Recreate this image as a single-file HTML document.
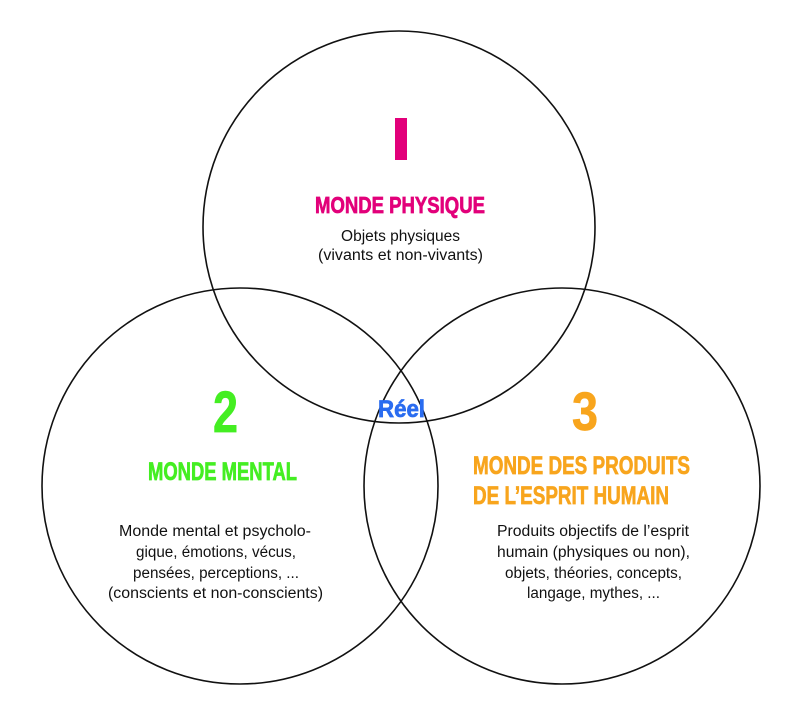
<!DOCTYPE html>
<html><head><meta charset="utf-8"><style>
html,body{margin:0;padding:0;background:#fff;}
svg{display:block;}
.t{font-family:"Liberation Sans",sans-serif;font-weight:bold;stroke-width:0.7;}
.b{font-family:"Liberation Sans",sans-serif;font-size:15.5px;fill:#111;}
</style></head><body>
<svg width="800" height="716" viewBox="0 0 800 716" xmlns="http://www.w3.org/2000/svg">
<g fill="none" stroke="#111" stroke-width="1.6">
<circle cx="399" cy="227" r="196"/>
<circle cx="240" cy="486" r="198"/>
<circle cx="562" cy="486" r="198"/>
</g>
<rect x="395" y="118" width="12" height="42" fill="#e2007a"/>
<text class="t" x="315" y="213" font-size="23" fill="#e2007a" stroke="#e2007a" textLength="170" lengthAdjust="spacingAndGlyphs">MONDE PHYSIQUE</text>
<text class="b" x="341" y="241" textLength="119" lengthAdjust="spacingAndGlyphs">Objets physiques</text>
<text class="b" x="318" y="260" textLength="165" lengthAdjust="spacingAndGlyphs">(vivants et non-vivants)</text>

<text class="t" x="213" y="432" font-size="58" fill="#44ee22" stroke="#44ee22" textLength="25" lengthAdjust="spacingAndGlyphs">2</text>
<text class="t" x="148" y="480" font-size="25" fill="#44ee22" stroke="#44ee22" textLength="149" lengthAdjust="spacingAndGlyphs">MONDE MENTAL</text>
<text class="b" x="119" y="536" textLength="192" lengthAdjust="spacingAndGlyphs">Monde mental et psycholo-</text>
<text class="b" x="136" y="557" textLength="160" lengthAdjust="spacingAndGlyphs">gique, émotions, vécus,</text>
<text class="b" x="133" y="578" textLength="166" lengthAdjust="spacingAndGlyphs">pensées, perceptions, ...</text>
<text class="b" x="108" y="598" textLength="215" lengthAdjust="spacingAndGlyphs">(conscients et non-conscients)</text>

<text class="t" x="378" y="417" font-size="24" fill="#2a6cf0" stroke="#2a6cf0" textLength="47" lengthAdjust="spacingAndGlyphs">Réel</text>

<text class="t" x="572" y="430" font-size="54" fill="#f8a51d" stroke="#f8a51d" textLength="26" lengthAdjust="spacingAndGlyphs">3</text>
<text class="t" x="473" y="474" font-size="25" fill="#f8a51d" stroke="#f8a51d" textLength="217" lengthAdjust="spacingAndGlyphs">MONDE DES PRODUITS</text>
<text class="t" x="473" y="504" font-size="25" fill="#f8a51d" stroke="#f8a51d" textLength="196" lengthAdjust="spacingAndGlyphs">DE L’ESPRIT HUMAIN</text>
<text class="b" x="497" y="536" textLength="192" lengthAdjust="spacingAndGlyphs">Produits objectifs de l’esprit</text>
<text class="b" x="497" y="557" textLength="193" lengthAdjust="spacingAndGlyphs">humain (physiques ou non),</text>
<text class="b" x="505" y="578" textLength="177" lengthAdjust="spacingAndGlyphs">objets, théories, concepts,</text>
<text class="b" x="527" y="598" textLength="133" lengthAdjust="spacingAndGlyphs">langage, mythes, ...</text>
</svg>
</body></html>
